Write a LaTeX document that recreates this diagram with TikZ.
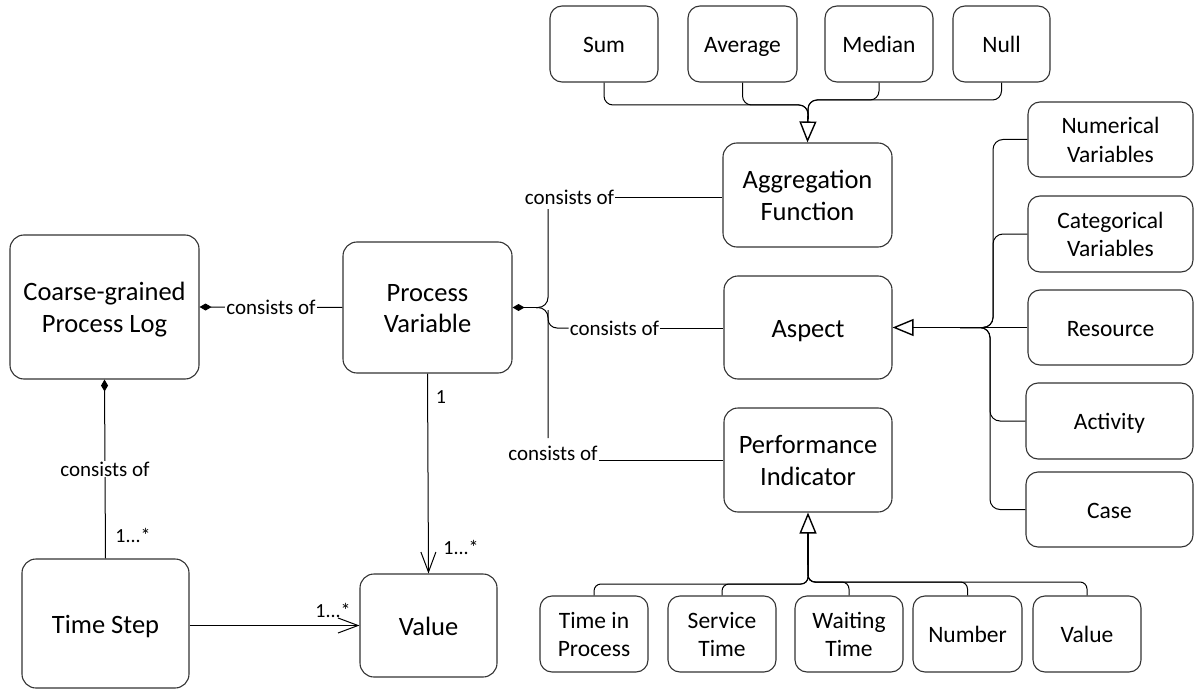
\documentclass[tikz,border=0pt]{standalone}
\usepackage{fontspec}
\setmainfont{Carlito}
\usetikzlibrary{arrows.meta}
\newcommand{\sx}{\rule[-0.2\baselineskip]{0pt}{\baselineskip}}
\tikzset{
  bx/.style={draw=black!80, line width=1.1pt, rounded corners=14pt, align=center, inner sep=0pt, text=black},
  big/.style={bx, font=\fontsize{26.5}{31.7}\selectfont},
  sml/.style={bx, rounded corners=12pt, font=\fontsize{23.5}{28.6}\selectfont, minimum width=108pt, minimum height=76pt},
  lbl/.style={font=\fontsize{21}{25}\selectfont, inner sep=1pt, fill=white},
  mul/.style={font=\fontsize{20}{24}\selectfont, inner sep=0pt},
  ln/.style={draw=black, line width=1pt},
  gen/.style={draw=black, line width=1.6pt},
  tri/.style={-{Triangle[open, length=21pt, width=17pt, line width=1.4pt]}},
  dia/.style={{Diamond[length=12pt, width=7pt]}-},
  barb/.style={-{Straight Barb[length=20pt, width=15pt, line width=1pt]}}
}
\begin{document}
\begin{tikzpicture}[x=1pt, y=-1pt]
\useasboundingbox (0,0) rectangle (1194,690);
% main boxes
\node[big, minimum width=189pt, minimum height=144pt] (coarse) at (104.5,307) {\sx Coarse-grained\\\sx Process Log};
\node[big, minimum width=169pt, minimum height=131pt] (pv) at (427.5,307.5) {\sx Process\\\sx Variable};
\node[big, minimum width=167pt, minimum height=129pt] (ts) at (105.5,623.5) {\sx Time Step};
\node[big, minimum width=137pt, minimum height=103pt] (val) at (428.5,625.5) {\sx Value};
\node[big, minimum width=169pt, minimum height=104pt] (agg) at (807.5,195) {\sx Aggregation\\\sx Function};
\node[big, minimum width=168pt, minimum height=103pt] (asp) at (808,327.5) {\sx Aspect};
\node[big, minimum width=168pt, minimum height=104pt] (perf) at (808,460) {\sx Performance\\\sx Indicator};
% top row
\node[sml] (sum) at (604,44) {\sx Sum};
\node[sml, minimum width=109pt] (avg) at (742.5,44) {\sx Average};
\node[sml] (med) at (879,44) {\sx Median};
\node[sml, minimum width=97pt] (nul) at (1001.5,44) {\sx Null};
% right column
\node[sml, minimum width=165pt, minimum height=75pt] (num) at (1110.5,139.5) {\sx Numerical\\\sx Variables};
\node[sml, minimum width=165pt] (cat) at (1110.5,234) {\sx Categorical\\\sx Variables};
\node[sml, minimum width=165pt, minimum height=75pt] (res) at (1110.5,327.5) {\sx Resource};
\node[sml, minimum width=167pt] (act) at (1109.5,421) {\sx Activity};
\node[sml, minimum width=167pt, minimum height=75pt] (cas) at (1109.5,509.5) {\sx Case};
% bottom row
\node[sml] (tip) at (594,634) {\sx Time in\\\sx Process};
\node[sml] (st) at (722,634) {\sx Service\\\sx Time};
\node[sml] (wt) at (849,634) {\sx Waiting\\\sx Time};
\node[sml, minimum width=109pt] (numb) at (967.5,634) {\sx Number};
\node[sml] (pval) at (1087,634) {\sx Value};

% coarse -- pv
\draw[ln, dia] (coarse.east) -- node[lbl, pos=0.5] {consists of} (pv.west);
% coarse -- time step
\draw[ln, dia] (coarse.south) -- node[lbl, pos=0.5] {consists of} (ts.north);
\node[mul] (m1) at (133,535) {1...*};
% pv -> value
\draw[ln, barb] (pv.south) -- (val.north);
\node[mul] (m2) at (441,397) {1};
\node[mul] (m3) at (461,547) {1...*};
% time step -> value
\draw[ln, barb] (ts.east |- val.west) -- (val.west);
\node[mul] (m4) at (333,610) {1...*};

% pv composition fan
\node[lbl, fill=none] (ca1) at (569.5,197) {consists of};
\node[lbl, fill=none] (ca2) at (614.5,328) {consists of};
\node[lbl, fill=none] (ca3) at (553,453) {consists of};
\coordinate (jn) at (548,307.5);
\draw[ln, line width=1.8pt, dia] (pv.east) -- (538,307.5);
\draw[ln, rounded corners=10pt] (536,307.5) -- (jn) -- (548,209);
\draw[ln, rounded corners=10pt] (536,307.5) -- (jn) -- (548,438);
\draw[ln, rounded corners=9pt] (548,310) -- (548,328) -- (ca2.west);
\draw[ln] (ca1.east) -- (agg.west |- ca1.east);
\draw[ln] (ca2.east) -- (asp.west |- ca2.east);
\draw[ln] (ca3.base east) -- (perf.west |- ca3.base east);

% aggregation generalization
\coordinate (g1) at (808,116);
\draw[ln, rounded corners=9pt] (sum.south) -- (604,105) -- (808,105) -- (g1);
\draw[ln, rounded corners=9pt] (avg.south) -- (742.5,105) -- (808,105) -- (g1);
\draw[ln, rounded corners=9pt] (med.south) -- (879,100) -- (808,100) -- (g1);
\draw[ln, rounded corners=9pt] (nul.south) -- (1001.5,100) -- (808,100) -- (g1);
\draw[gen, tri] (g1) -- (agg.north);

% aspect generalization
\coordinate (g2) at (960,327.5);
\draw[ln, rounded corners=10pt] (num.west) -- (993,139.5) -- (993,327.5) -- (g2);
\draw[ln, rounded corners=10pt] (cat.west) -- (993,234) -- (993,327.5) -- (g2);
\draw[ln] (res.west) -- (g2);
\draw[ln, rounded corners=10pt] (act.west) -- (990,421) -- (990,327.5) -- (g2);
\draw[ln, rounded corners=10pt] (cas.west) -- (990,509.5) -- (990,327.5) -- (g2);
\draw[gen, tri] (g2) -- (asp.east);

% performance generalization
\coordinate (g3) at (808,565);
\draw[ln, rounded corners=7pt] (tip.north) -- (594,584) -- (808,584) -- (g3);
\draw[ln, rounded corners=7pt] (st.north) -- (722,584) -- (808,584) -- (g3);
\draw[ln, rounded corners=7pt] (wt.north) -- (849,582) -- (808,582) -- (g3);
\draw[ln, rounded corners=7pt] (numb.north) -- (967.5,582) -- (808,582) -- (g3);
\draw[ln, rounded corners=7pt] (pval.north) -- (1087,582) -- (808,582) -- (g3);
\draw[gen, tri] (g3) -- (perf.south);
\end{tikzpicture}
\end{document}
